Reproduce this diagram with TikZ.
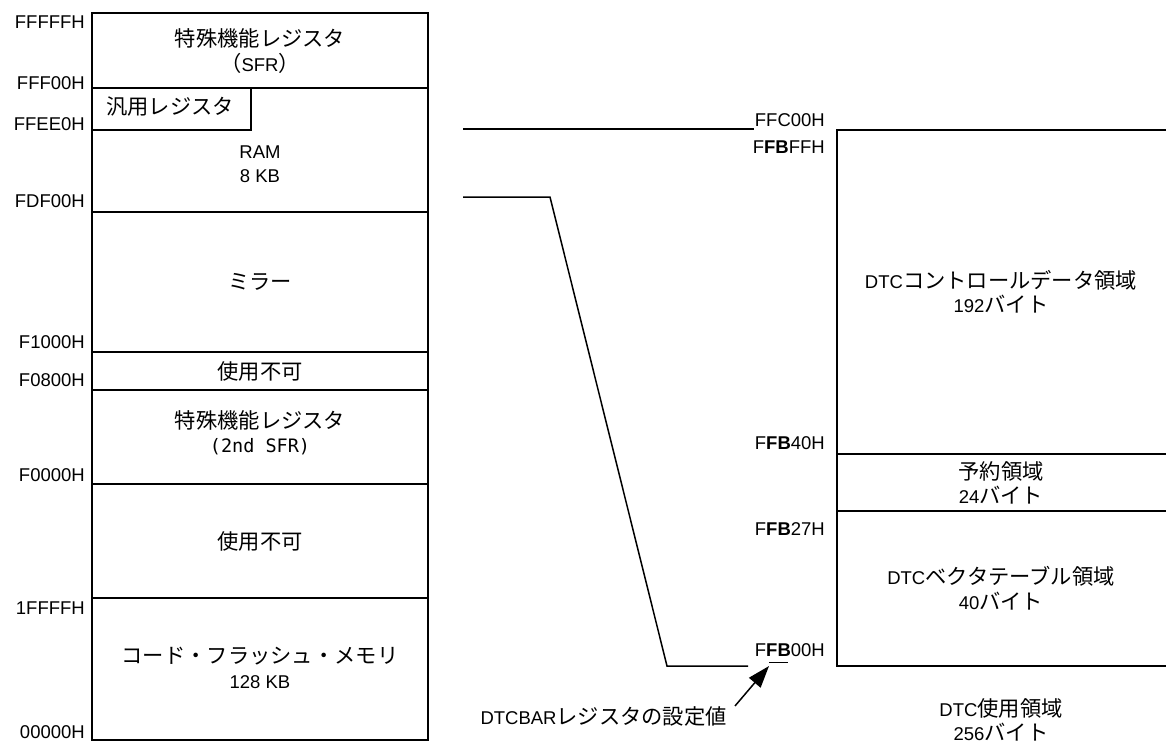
\documentclass[tikz,border=0pt]{standalone}
\usepackage{fontspec}
\setmainfont{Liberation Sans}
\newfontfamily\jp[Scale=1.15]{Noto Sans CJK JP}
\newfontfamily\monofnt{DejaVu Sans Mono}
\usetikzlibrary{arrows.meta}

\begin{document}
\begin{tikzpicture}[
    x=1pt, y=-1pt,
    font=\fontsize{18.5pt}{24.5pt}\selectfont,
    mapline/.style={line width=1.5pt},
    addr/.style={anchor=east, inner sep=0pt},
    area/.style={align=center, inner sep=0pt},
    arrow/.style={-{Triangle[length=22pt,width=15pt]}, line width=1.5pt}
  ]
  \useasboundingbox (0,0) rectangle (1166,747);

  % Memory map (left)
  \draw[mapline] (92,13) rectangle (428,740);
  \foreach \y in {88,212,352,390,484,598}
    \draw[mapline] (92,\y) -- (428,\y);
  \draw[mapline] (92,130) -- (251,130) -- (251,88);

  \foreach \y/\t/\n in {22/FFFFFH/a-fffff, 83/FFF00H/a-fff00, 124/FFEE0H/a-ffee0,
      201/FDF00H/a-fdf00, 342/F1000H/a-f1000, 380/F0800H/a-f0800,
      475/F0000H/a-f0000, 608/1FFFFH/a-1ffff, 732/00000H/a-00000}
    \node[addr] (\n) at (85,\y) {\t};

  \node[area] (sfr) at (260,51) {{\jp 特殊機能レジスタ}\\{\jp （}SFR{\jp ）}};
  \node[area] (gpr) at (170,107) {\jp 汎用レジスタ};
  \node[area] (ram) at (260,164) {RAM\\8 KB};
  \node[area] (mirror) at (260,282) {\jp ミラー};
  \node[area] (unused1) at (260,371) {\jp 使用不可};
  \node[area] (sfr2) at (260,433) {{\jp 特殊機能レジスタ}\\{\monofnt (2nd SFR)}};
  \node[area] (unused2) at (260,541) {\jp 使用不可};
  \node[area] (flash) at (260,668) {{\jp コード・フラッシュ・メモリ}\\128 KB};

  % DTC area (right)
  \draw[mapline] (1166,130) -- (837,130) -- (837,666) -- (1166,666);
  \draw[mapline] (837,454) -- (1166,454);
  \draw[mapline] (837,511) -- (1166,511);

  \node[addr] (b-ffc00) at (825,120) {FFC00H};
  \node[addr] (b-ffbff) at (825,147) {F\textbf{FB}FFH};
  \node[addr] (b-ffb40) at (825,443) {F\textbf{FB}40H};
  \node[addr] (b-ffb27) at (825,529) {F\textbf{FB}27H};
  \node[addr] (b-ffb00) at (825,650) {F\textbf{FB}00H};

  \node[area] (ctrl) at (1001,292) {DTC{\jp コントロールデータ領域}\\192{\jp バイト}};
  \node[area] (rsv) at (1001,483) {{\jp 予約領域}\\24{\jp バイト}};
  \node[area] (vect) at (1001,588) {DTC{\jp ベクタテーブル領域}\\40{\jp バイト}};
  \node[area] (usage) at (1001,720) {DTC{\jp 使用領域}\\256{\jp バイト}};

  % Expansion lines
  \coordinate (top-l) at (463,129);
  \coordinate (top-r) at (754,129);
  \coordinate (low-a) at (463,197);
  \coordinate (low-b) at (550,197);
  \coordinate (low-c) at (667,666);
  \coordinate (low-d) at (748,666);
  \draw[mapline] (top-l) -- (top-r);
  \draw[mapline] (low-a) -- (low-b) -- (low-c) -- (low-d);

  % DTCBAR marker
  \coordinate (fb-ul) at (769,662);
  \coordinate (fb-ur) at (788,662);
  \draw[line width=1pt] (fb-ul) -- (fb-ur);
  \node[addr] (dtcbar) at (727,716) {DTCBAR{\jp レジスタの設定値}};
  \draw[arrow] ([xshift=8pt]dtcbar.north east) -- ([yshift=-4pt]fb-ul);
\end{tikzpicture}
\end{document}
